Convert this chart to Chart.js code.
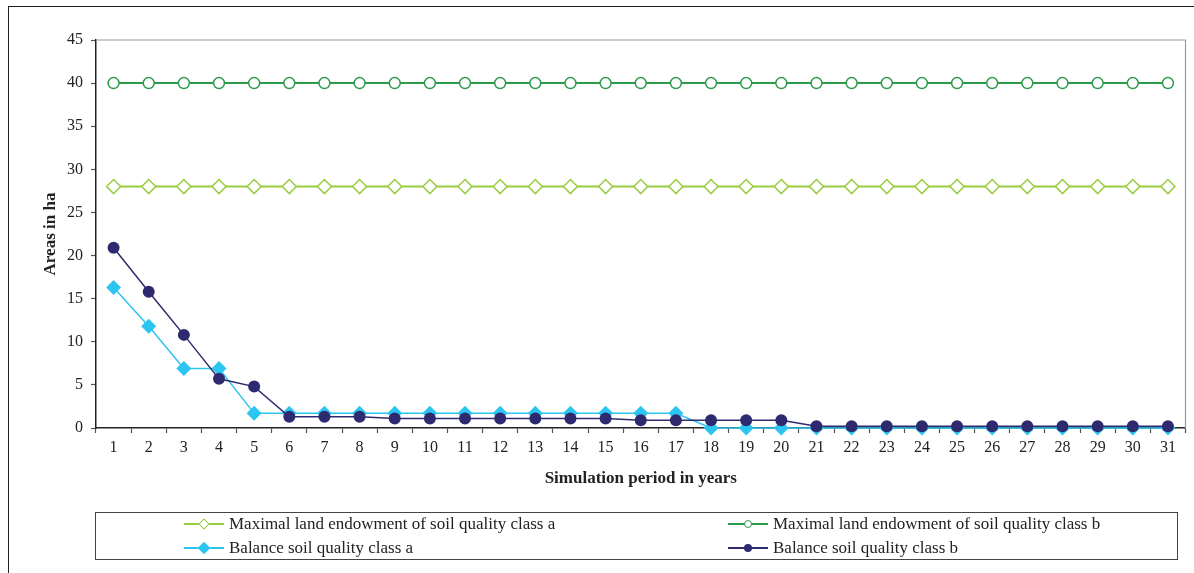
<!DOCTYPE html>
<html>
<head>
<meta charset="utf-8">
<script src="https://cdn.jsdelivr.net/npm/chart.js@4/dist/chart.umd.min.js"></script>
<style>
  html, body { margin: 0; padding: 0; background: #fff; overflow: hidden; }
  #wrap { position: relative; width: 1194px; height: 573px; }
  #frame { position: absolute; left: 8px; top: 6px; width: 1300px; height: 700px;
           border-left: 1.5px solid #222; border-top: 1.5px solid #222; }
  #chart { position: absolute; left: 0; top: 0; }
  #legend { position: absolute; left: 95px; top: 512px; width: 1081px; height: 46px;
            border: 1px solid #444; font-family: "Liberation Serif", serif; font-size: 17px; color: #222; }
  .item { position: absolute; height: 20px; display: flex; align-items: center; white-space: nowrap; }
  .mark { position: relative; width: 40px; height: 20px; margin-right: 5px; }
  .mark .ln { position: absolute; left: 0; right: 0; top: 9px; height: 1.6px; }
  .mark .pt { position: absolute; left: 50%; top: 50%; box-sizing: border-box; }
</style>
</head>
<body>
<div id="wrap">
  <div id="frame"></div>
  <canvas id="chart" width="1194" height="573"></canvas>
  <div id="legend"></div>
</div>
<script>
const years = ["1","2","3","4","5","6","7","8","9","10","11","12","13","14","15","16",
               "17","18","19","20","21","22","23","24","25","26","27","28","29","30","31"];

const maxClassA = [28,28,28,28,28,28,28,28,28,28,28,28,28,28,28,28,
                   28,28,28,28,28,28,28,28,28,28,28,28,28,28,28];
const maxClassB = [40,40,40,40,40,40,40,40,40,40,40,40,40,40,40,40,
                   40,40,40,40,40,40,40,40,40,40,40,40,40,40,40];
const balanceA = [16.3,11.8,6.9,6.9,1.7,1.7,1.7,1.7,1.7,1.7,1.7,1.7,1.7,1.7,1.7,1.7,
                  1.7,0,0,0,0,0,0,0,0,0,0,0,0,0,0];
const balanceB = [20.9,15.8,10.8,5.7,4.8,1.3,1.3,1.3,1.1,1.1,1.1,1.1,1.1,1.1,1.1,0.9,
                  0.9,0.9,0.9,0.9,0.2,0.2,0.2,0.2,0.2,0.2,0.2,0.2,0.2,0.2,0.2];

const yTicks = [0,5,10,15,20,25,30,35,40,45];

const seriesNames = [
  "Maximal land endowment of soil quality class a",
  "Maximal land endowment of soil quality class b",
  "Balance soil quality class a",
  "Balance soil quality class b"
];

const colLightGreen = "#99cc3f";
const colGreen = "#2b9a4a";
const colCyan = "#2cc5f2";
const colNavy = "#2e2a70";

const serif = "'Liberation Serif', 'Times New Roman', serif";

// gray frame on top and right of the plot area
const plotFrame = {
  id: "plotFrame",
  beforeDatasetsDraw(chart) {
    const { ctx, chartArea: a } = chart;
    ctx.save();
    ctx.strokeStyle = "#9a9a9a";
    ctx.lineWidth = 1.2;
    ctx.beginPath();
    ctx.moveTo(a.left, a.top);
    ctx.lineTo(a.right, a.top);
    ctx.lineTo(a.right, a.bottom);
    ctx.stroke();
    ctx.restore();
  }
};

const chart = new Chart(document.getElementById("chart"), {
  type: "line",
  data: {
    labels: years,
    datasets: [
      { label: seriesNames[0], data: maxClassA, order: 3, borderColor: colLightGreen, borderWidth: 2,
        pointStyle: "rectRot", pointRadius: 7, pointBorderWidth: 1.5,
        pointBackgroundColor: "#fff", pointBorderColor: colLightGreen },
      { label: seriesNames[1], data: maxClassB, order: 2, borderColor: colGreen, borderWidth: 2,
        pointStyle: "circle", pointRadius: 5.5, pointBorderWidth: 1.5,
        pointBackgroundColor: "#fff", pointBorderColor: colGreen },
      { label: seriesNames[2], data: balanceA, order: 1, borderColor: colCyan, borderWidth: 1.5,
        pointStyle: "rectRot", pointRadius: 7.5, pointBorderWidth: 0,
        pointBackgroundColor: colCyan, pointBorderColor: colCyan },
      { label: seriesNames[3], data: balanceB, order: 0, borderColor: colNavy, borderWidth: 1.5,
        pointStyle: "circle", pointRadius: 6, pointBorderWidth: 0,
        pointBackgroundColor: colNavy, pointBorderColor: colNavy }
    ]
  },
  options: {
    responsive: false,
    animation: false,
    devicePixelRatio: 1,
    layout: { padding: { top: 40, right: 8, bottom: 75, left: 0 } },
    plugins: { legend: { display: false }, tooltip: { enabled: false } },
    elements: { line: { tension: 0 } },
    datasets: { line: { clip: false } },
    scales: {
      x: {
        offset: true,
        grid: { offset: true, drawOnChartArea: false, tickLength: 5, color: "#555", tickWidth: 1.2 },
        border: { color: "#222", width: 1.5 },
        ticks: { color: "#222", padding: 5, maxRotation: 0, autoSkip: false,
                 font: { family: serif, size: 16 } },
        title: { display: true, text: "Simulation period in years", color: "#222",
                 padding: { top: 0, bottom: 9 }, font: { family: serif, size: 17, weight: "bold" } },
        afterFit(scale) { scale.height = 70; }
      },
      y: {
        min: 0, max: 45,
        afterBuildTicks(scale) { scale.ticks = yTicks.map(v => ({ value: v })); },
        grid: { drawOnChartArea: false, tickLength: 5, color: "#555", tickWidth: 1.2 },
        border: { color: "#222", width: 1.5 },
        ticks: { color: "#222", padding: 8, font: { family: serif, size: 16 } },
        title: { display: true, text: "Areas in ha", color: "#222",
                 padding: { top: 40, bottom: 0 }, font: { family: serif, size: 17, weight: "bold" } },
        afterFit(scale) { scale.width = 96; }
      }
    }
  },
  plugins: [plotFrame]
});

// legend in two columns, built from the datasets
const legendEl = document.getElementById("legend");
const slots = [[88, 1], [632, 1], [88, 25], [632, 25]];
chart.data.datasets.forEach((ds, i) => {
  const item = document.createElement("div");
  item.className = "item";
  item.style.left = slots[i][0] + "px";
  item.style.top = slots[i][1] + "px";
  const mark = document.createElement("span");
  mark.className = "mark";
  const ln = document.createElement("span");
  ln.className = "ln";
  ln.style.background = ds.borderColor;
  const pt = document.createElement("span");
  pt.className = "pt";
  const filled = ds.pointBackgroundColor !== "#fff";
  if (ds.pointStyle === "rectRot") {
    const s = filled ? 9 : 8;
    pt.style.width = s + "px"; pt.style.height = s + "px";
    pt.style.transform = "translate(-50%,-50%) rotate(45deg)";
  } else {
    const s = 8;
    pt.style.width = s + "px"; pt.style.height = s + "px";
    pt.style.borderRadius = "50%";
    pt.style.transform = "translate(-50%,-50%)";
  }
  pt.style.background = filled ? ds.pointBackgroundColor : "#fff";
  pt.style.border = filled ? "none" : "1.5px solid " + ds.pointBorderColor;
  mark.appendChild(ln);
  mark.appendChild(pt);
  const txt = document.createElement("span");
  txt.textContent = ds.label;
  item.appendChild(mark);
  item.appendChild(txt);
  legendEl.appendChild(item);
});
</script>
</body>
</html>
